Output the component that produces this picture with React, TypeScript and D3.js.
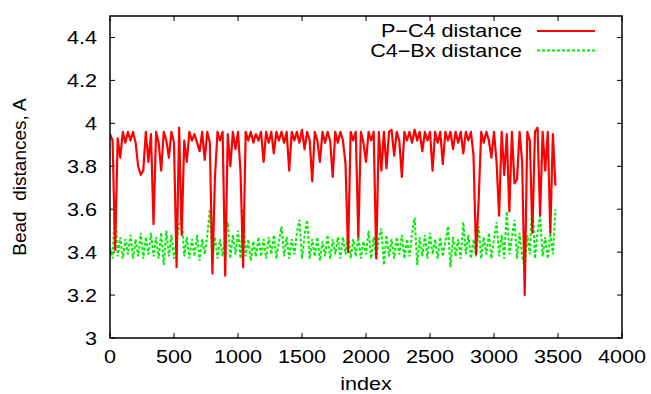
import React from "react";
import * as d3 from "d3";

const indexStep = 20;

const pC4Distance = [
  3.95, 3.92, 3.41, 3.93, 3.84, 3.96, 3.91, 3.96, 3.92, 3.96,
  3.91, 3.80, 3.76, 3.78, 3.96, 3.82, 3.95, 3.53, 3.96, 3.91,
  3.78, 3.96, 3.92, 3.84, 3.96, 3.91, 3.33, 3.98, 3.48, 3.92,
  3.82, 3.96, 3.92, 3.95, 3.91, 3.87, 3.96, 3.83, 3.96, 3.91,
  3.30, 3.75, 3.96, 3.92, 3.96, 3.29, 3.95, 3.80, 3.96, 3.88,
  3.96, 3.77, 3.33, 3.96, 3.92, 3.96, 3.91, 3.95, 3.92, 3.96,
  3.82, 3.96, 3.91, 3.96, 3.86, 3.96, 3.92, 3.96, 3.91, 3.96,
  3.78, 3.96, 3.92, 3.96, 3.91, 3.97, 3.88, 3.96, 3.92, 3.73,
  3.96, 3.92, 3.82, 3.96, 3.91, 3.96, 3.92, 3.75, 3.96, 3.91,
  3.96, 3.92, 3.81, 3.40, 3.96, 3.92, 3.96, 3.47, 3.96, 3.91,
  3.82, 3.96, 3.92, 3.96, 3.37, 3.96, 3.78, 3.96, 3.79, 3.96,
  3.97, 3.85, 3.96, 3.92, 3.75, 3.96, 3.92, 3.96, 3.91, 3.97,
  3.92, 3.96, 3.87, 3.96, 3.92, 3.96, 3.78, 3.96, 3.91, 3.96,
  3.81, 3.96, 3.92, 3.96, 3.88, 3.96, 3.91, 3.96, 3.86, 3.96,
  3.92, 3.96, 3.85, 3.39, 3.64, 3.96, 3.91, 3.96, 3.92, 3.84,
  3.96, 3.82, 3.57, 3.96, 3.76, 3.95, 3.59, 3.96, 3.72, 3.74,
  3.96, 3.82, 3.20, 3.96, 3.92, 3.49, 3.96, 3.98, 3.57, 3.96,
  3.78, 3.96, 3.49, 3.95, 3.71,
];

const c4BxDistance = [
  3.42, 3.37, 3.62, 3.38, 3.47, 3.37, 3.46, 3.39, 3.48, 3.37,
  3.46, 3.38, 3.49, 3.37, 3.47, 3.39, 3.49, 3.38, 3.47, 3.37,
  3.49, 3.34, 3.50, 3.38, 3.48, 3.37, 3.46, 3.52, 3.57, 3.38,
  3.47, 3.37, 3.46, 3.38, 3.48, 3.36, 3.46, 3.39, 3.48, 3.60,
  3.37, 3.47, 3.37, 3.46, 3.38, 3.49, 3.54, 3.37, 3.48, 3.39,
  3.50, 3.37, 3.60, 3.38, 3.46, 3.36, 3.45, 3.38, 3.47, 3.38,
  3.46, 3.37, 3.47, 3.39, 3.48, 3.37, 3.45, 3.52, 3.38, 3.47,
  3.37, 3.46, 3.39, 3.49, 3.55, 3.37, 3.48, 3.55, 3.37, 3.46,
  3.38, 3.47, 3.36, 3.45, 3.38, 3.48, 3.37, 3.46, 3.39, 3.47,
  3.37, 3.47, 3.39, 3.49, 3.37, 3.46, 3.38, 3.47, 3.37, 3.45,
  3.39, 3.50, 3.37, 3.47, 3.37, 3.46, 3.51, 3.34, 3.48, 3.38,
  3.46, 3.37, 3.47, 3.39, 3.48, 3.37, 3.46, 3.38, 3.49, 3.56,
  3.34, 3.47, 3.38, 3.48, 3.37, 3.49, 3.39, 3.46, 3.37, 3.47,
  3.38, 3.45, 3.52, 3.33, 3.47, 3.38, 3.46, 3.37, 3.54, 3.39,
  3.48, 3.37, 3.46, 3.38, 3.52, 3.37, 3.47, 3.39, 3.49, 3.37,
  3.46, 3.54, 3.38, 3.48, 3.37, 3.59, 3.39, 3.47, 3.55, 3.37,
  3.49, 3.38, 3.32, 3.48, 3.39, 3.64, 3.37, 3.49, 3.57, 3.38,
  3.47, 3.37, 3.49, 3.39, 3.60,
];

const xTicks = [0, 500, 1000, 1500, 2000, 2500, 3000, 3500, 4000];
const yTicks = [3, 3.2, 3.4, 3.6, 3.8, 4, 4.2, 4.4];
const seriesNames = ["P\u2212C4 distance", "C4\u2212Bx distance"];
const seriesColors = ["#ff0000", "#00ee00"];

const W = 651;
const H = 394;
const left = 110;
const right = 622;
const top = 16;
const bottom = 338;
const FONT = "'Liberation Sans', Arial, Helvetica, sans-serif";
const SX = 1.2;

export default function App() {
  const x = d3.scaleLinear().domain([0, 4000]).range([left, right]);
  const y = d3.scaleLinear().domain([3, 4.5]).range([bottom, top]);
  const line = d3
    .line<number>()
    .x((_, i) => x(i * indexStep))
    .y((d) => y(d));

  const fmtY = (v: number) => (Number.isInteger(v) ? String(v) : v.toFixed(1));

  return (
    <svg
      width={W}
      height={H}
      style={{ position: "absolute", left: 0, top: 0, background: "#fff" }}
      fontFamily={FONT}
    >
      <rect x={0} y={0} width={W} height={H} fill="#fff" />
      <defs>
        <clipPath id="plotclip">
          <rect x={left} y={top} width={right - left} height={bottom - top} />
        </clipPath>
      </defs>
      {xTicks.map((t) => (
        <g key={"xt" + t}>
          <line x1={x(t)} x2={x(t)} y1={bottom} y2={bottom - 5} stroke="#000" strokeWidth={1} />
          <line x1={x(t)} x2={x(t)} y1={top} y2={top + 5} stroke="#000" strokeWidth={1} />
          <text
            transform={`translate(${x(t)},${363}) scale(${SX},1)`}
            textAnchor="middle"
            fontSize={18}
            fill="#000"
          >
            {t}
          </text>
        </g>
      ))}
      {yTicks.map((t) => (
        <g key={"yt" + t}>
          <line x1={left} x2={left + 5} y1={y(t)} y2={y(t)} stroke="#000" strokeWidth={1} />
          <line x1={right} x2={right - 5} y1={y(t)} y2={y(t)} stroke="#000" strokeWidth={1} />
          <text
            transform={`translate(${97},${y(t) + 6.5}) scale(${SX},1)`}
            textAnchor="end"
            fontSize={18}
            fill="#000"
          >
            {fmtY(t)}
          </text>
        </g>
      ))}
      <g clipPath="url(#plotclip)">
        <path
          d={line(c4BxDistance) || ""}
          fill="none"
          stroke={seriesColors[1]}
          strokeWidth={2}
          strokeDasharray="3,2"
        />
        <path
          d={line(pC4Distance) || ""}
          fill="none"
          stroke={seriesColors[0]}
          strokeWidth={2.2}
          strokeLinejoin="round"
        />
      </g>
      <rect
        x={left}
        y={top}
        width={right - left}
        height={bottom - top}
        fill="none"
        stroke="#000"
        strokeWidth={1.5}
      />
      {seriesNames.map((name, i) => {
        const ly = 31 + i * 19.5;
        return (
          <g key={name}>
            <text
              transform={`translate(${522},${ly + 6.3}) scale(${SX},1)`}
              textAnchor="end"
              fontSize={18}
              fill="#000"
            >
              {name}
            </text>
            <line
              x1={537}
              x2={595}
              y1={ly}
              y2={ly}
              stroke={seriesColors[i]}
              strokeWidth={2}
              strokeDasharray={i === 1 ? "3,2" : undefined}
            />
          </g>
        );
      })}
      <text
        transform={`translate(${366},${390}) scale(${SX},1)`}
        textAnchor="middle"
        fontSize={18}
        fill="#000"
      >
        index
      </text>
      <text
        transform={`translate(${26},${177}) rotate(-90)`}
        textAnchor="middle"
        fontSize={19}
        fill="#000"
      >
        {"Bead\u00a0 distances, A"}
      </text>
    </svg>
  );
}
